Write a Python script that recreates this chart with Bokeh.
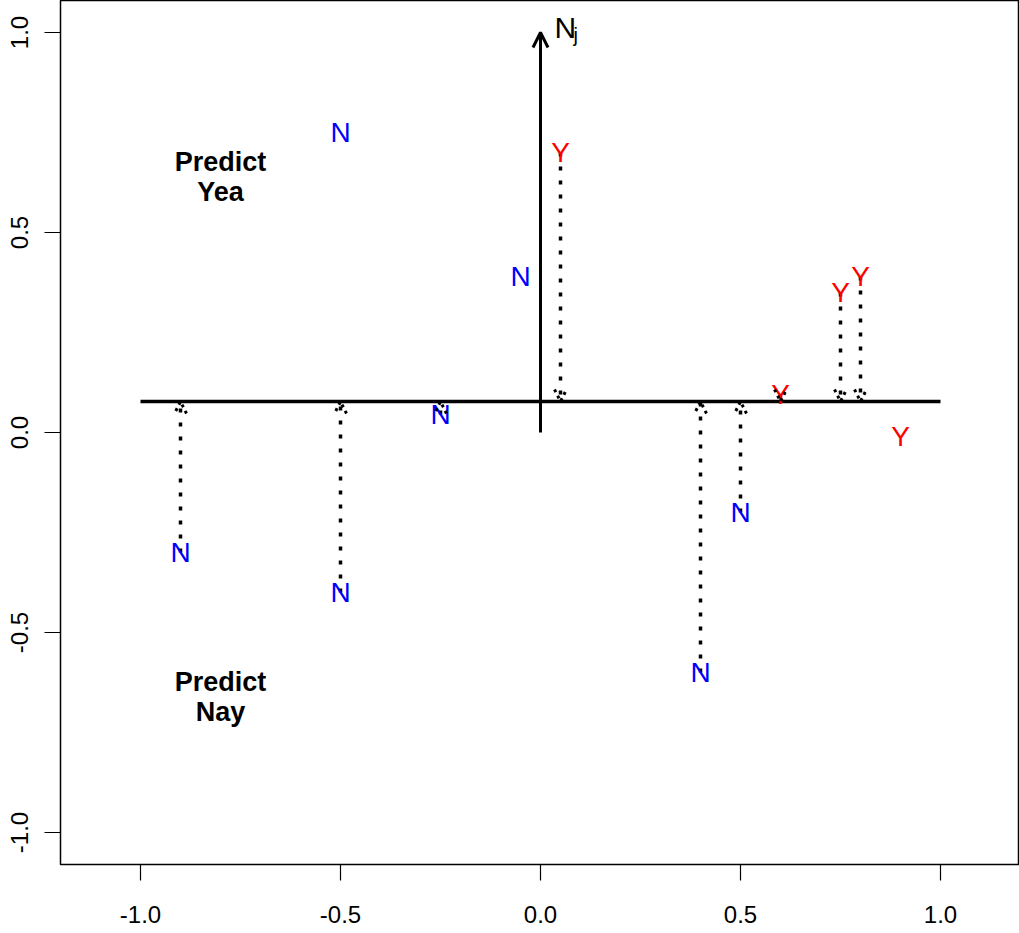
from bokeh.plotting import figure
from bokeh.models import (Arrow, OpenHead, ColumnDataSource, Range1d,
                          NumeralTickFormatter, Label)
from bokeh.core.properties import value
from bokeh.embed import file_html
from bokeh.resources import INLINE

# Legislator ideal points and their votes
leg_x = [-0.5, -0.05, 0.05, -0.25, 0.6, 0.75, 0.8, 0.9, -0.9, -0.5, 0.4, 0.5]
leg_y = [0.75, 0.39, 0.70, 0.045, 0.095, 0.35, 0.39, -0.01, -0.3, -0.4, -0.6, -0.2]
vote = ["N", "N", "Y", "N", "Y", "Y", "Y", "Y", "N", "N", "N", "N"]
projected = [False, False, True, True, True, True, True, False, True, True, True, True]

# Cutting line
cut_x = [-1.0, 1.0]
cut_y = [0.0775, 0.0775]

# Normal vector N_j
normal_x = [0.0, 0.0]
normal_y = [0.0, 1.0]

tick_vals = [-1.0, -0.5, 0.0, 0.5, 1.0]

region_x = [-0.8, -0.8]
region_y = [0.64, -0.66]
region_text = ["Predict\nYea", "Predict\nNay"]

FONT = "Liberation Sans"

p = figure(frame_width=959, frame_height=864,
           min_border_left=60, min_border_right=0,
           min_border_top=0, min_border_bottom=69,
           x_range=Range1d(-1.2, 1.1975), y_range=Range1d(-1.08, 1.08),
           output_backend="svg", toolbar_location=None)

p.xgrid.visible = False
p.ygrid.visible = False
p.outline_line_color = "black"
p.outline_line_width = 1.5
p.background_fill_color = "white"
p.border_fill_color = "white"

for ax in (p.xaxis[0], p.yaxis[0]):
    ax.ticker = tick_vals
    ax.formatter = NumeralTickFormatter(format="0.0")
    ax.major_tick_out = 16
    ax.major_tick_in = 0
    ax.minor_tick_line_color = None
    ax.axis_line_color = None
    ax.major_tick_line_width = 1.2
    ax.major_label_text_font = FONT
    ax.major_label_text_font_size = "24px"
    ax.major_label_text_color = "black"
p.yaxis.major_label_orientation = "vertical"
p.yaxis.major_label_standoff = 17
p.xaxis.major_label_standoff = 25

# Cutting line
p.line(cut_x, cut_y, line_color="black", line_width=3.5)

# Normal vector arrow
p.add_layout(Arrow(x_start=normal_x[0], y_start=normal_y[0],
                   x_end=normal_x[1], y_end=normal_y[1],
                   line_color="black", line_width=3,
                   end=OpenHead(size=15, line_width=3, line_color="black")))
p.add_layout(Label(x=normal_x[1], y=normal_y[1], x_offset=14, y_offset=5,
                   text="N", text_font=FONT, text_font_size="30px",
                   text_color="black", text_baseline="alphabetic"))
p.add_layout(Label(x=normal_x[1], y=normal_y[1], x_offset=33, y_offset=-2,
                   text="j", text_font=FONT, text_font_size="20px",
                   text_color="black", text_baseline="alphabetic"))

# Projections of legislators onto the cutting line: dotted shafts + heads
px = [x for x, f in zip(leg_x, projected) if f]
py = [y for y, f in zip(leg_y, projected) if f]
pe = [cut_y[0]] * len(px)
proj_src = ColumnDataSource(dict(xs=px, ys=py, xe=px, ye=pe))
p.segment(x0="xs", y0="ys", x1="xe", y1="ye", source=proj_src,
          line_color="black", line_width=3.5, line_dash="4 10")
p.add_layout(Arrow(x_start="xs", y_start="ys", x_end="xe", y_end="ye",
                   source=proj_src, line_alpha=0.0,
                   end=OpenHead(size=12, line_width=3, line_color="black",
                                line_dash="3 4")))

# Vote letters
colors = ["#0000FF" if v == "N" else "#FF0000" for v in vote]
src = ColumnDataSource(dict(x=leg_x, y=leg_y, t=vote, c=colors))
p.text(x="x", y="y", text="t", source=src, text_color="c",
       text_font=value(FONT), text_font_size="28px",
       text_align="center", text_baseline="middle")

p.text(x=region_x, y=region_y, text=region_text,
       text_font=value(FONT), text_font_size="27px", text_font_style="bold",
       text_align="center", text_baseline="middle", text_line_height=1.0)

open("out.html", "w").write(file_html(p, INLINE))
